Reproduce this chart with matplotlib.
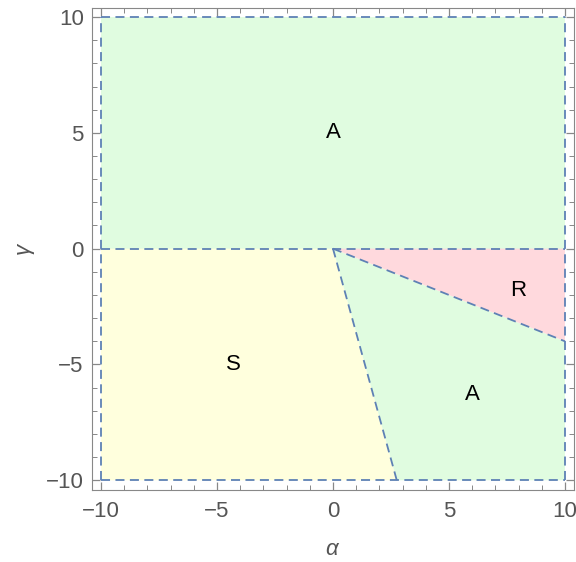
import matplotlib
matplotlib.use("Agg")
import matplotlib.pyplot as plt
from matplotlib.patches import Polygon
from matplotlib.ticker import MultipleLocator

plt.rcParams['font.family'] = ['Liberation Sans', 'DejaVu Sans']
plt.rcParams['mathtext.fontset'] = 'custom'
plt.rcParams['mathtext.it'] = 'Liberation Sans:italic'
plt.rcParams['mathtext.rm'] = 'Liberation Sans'

# Region vertices (alpha, gamma)
region_A_top = [(-10, 0), (10, 0), (10, 10), (-10, 10)]
region_S = [(-10, -10), (2.75, -10), (0, 0), (-10, 0)]
region_A_bottom = [(0, 0), (2.75, -10), (10, -10), (10, -4.0)]
region_R = [(0, 0), (10, -4.0), (10, 0)]
region_colors = ["#E0FCE0", "#FFFFDD", "#E0FCE0", "#FFD9DD"]

label_texts = ["A", "R", "S", "A"]
label_x = [0, 8, -4.3, 6]
label_y = [5, -1.8, -5, -6.3]

boundaries = [
    [(-10, 0), (10, 0)],
    [(0, 0), (2.75, -10)],
    [(0, 0), (10, -4.0)],
    [(-10, -10), (-10, 10)],
    [(10, -10), (10, 10)],
    [(-10, 10), (10, 10)],
    [(-10, -10), (10, -10)],
]

fig = plt.figure(figsize=(5.76, 5.62), dpi=100)
ax = fig.add_axes([0.1597, 0.1281, 0.8368, 0.8577])

for verts, c in zip([region_A_top, region_S, region_A_bottom, region_R], region_colors):
    ax.add_patch(Polygon(verts, closed=True, facecolor=c, edgecolor="none"))

line_color = "#5E81B5"
for seg in boundaries:
    xs = [p[0] for p in seg]
    ys = [p[1] for p in seg]
    ax.plot(xs, ys, color=line_color, lw=1.3, ls=(0, (5, 3)))

for t, x, y in zip(label_texts, label_x, label_y):
    ax.text(x, y, t, ha="center", va="center", fontsize=16, color="black")

ax.set_xlim(-10.39, 10.39)
ax.set_ylim(-10.42, 10.39)

gray = "#888888"
for s in ax.spines.values():
    s.set_color(gray)
ax.xaxis.set_major_locator(MultipleLocator(5))
ax.yaxis.set_major_locator(MultipleLocator(5))
ax.xaxis.set_minor_locator(MultipleLocator(1))
ax.yaxis.set_minor_locator(MultipleLocator(1))
ax.tick_params(which="both", direction="in", top=True, right=True, color=gray,
               labelcolor="#555555", labelsize=16)
ax.tick_params(which="major", length=6, width=0.9)
ax.tick_params(which="minor", length=3.5, width=0.7)
ax.tick_params(axis="x", which="major", pad=8)
ax.tick_params(axis="y", which="major", pad=6)
ax.tick_params(axis="both", which="both", labeltop=False, labelright=False)

ax.set_xlabel(r"$\alpha$", fontsize=16, color="#555555")
ax.set_ylabel(r"$\gamma$", fontsize=16, color="#555555", rotation=90)
ax.xaxis.labelpad = 12
ax.yaxis.labelpad = 6

fig.savefig("out.png", dpi=100)
